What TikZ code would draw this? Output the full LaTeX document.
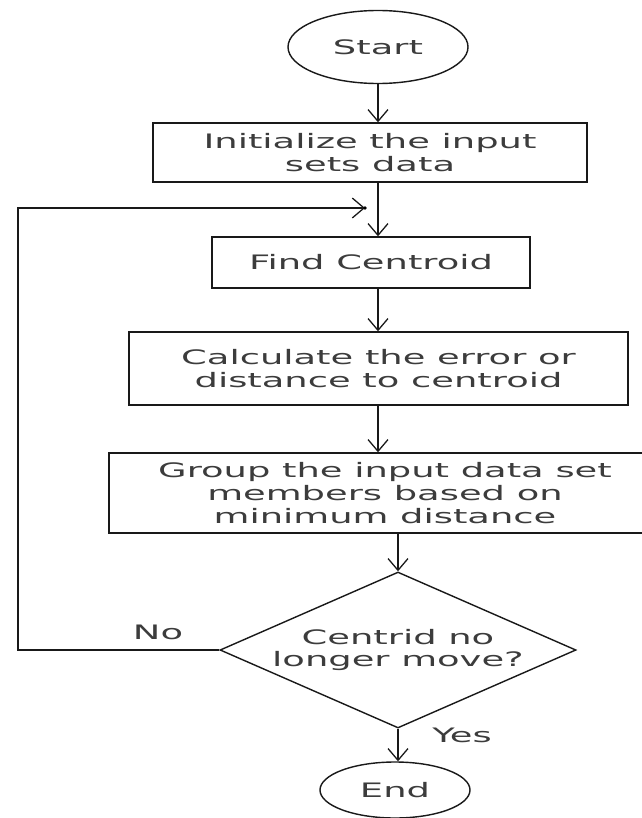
\documentclass[tikz,border=0pt]{standalone}
\usepackage{fontspec}
\usetikzlibrary{shapes.geometric,arrows.meta}
\newfontfamily\wfont[FakeStretch=1.85]{DejaVu Sans}
\definecolor{txt}{HTML}{3C3C3C}
\begin{document}
\begin{tikzpicture}[x=0.03cm,y=-0.03cm,
  every node/.style={font=\wfont\fontsize{17}{19.5}\selectfont, text=txt},
  shapeline/.style={draw=black!90, line width=1.2pt, fill=white, inner sep=0pt, align=center},
  term/.style={shapeline, ellipse},
  procbox/.style={shapeline, rectangle},
  decbox/.style={shapeline, diamond, aspect=2.28},
  flow/.style={draw=black!90, line width=1.2pt, -{Straight Barb[length=10pt,width=17pt,line width=1.1pt]}},
  lbl/.style={inner sep=0pt}]
\useasboundingbox (0,0) rectangle (641,818);
\node[term, minimum width=5.4cm, minimum height=2.19cm] (start) at (378,47) {Start};
\node[procbox, minimum width=13.02cm, minimum height=1.77cm] (init) at (370,152.5) {Initialize the input\\sets data};
\node[procbox, minimum width=9.54cm, minimum height=1.53cm] (cent) at (371,262.5) {Find Centroid};
\node[procbox, minimum width=14.97cm, minimum height=2.19cm] (calc) at (378.5,368.5) {Calculate the error or\\distance to centroid};
\node[procbox, minimum width=16.56cm, minimum height=2.4cm] (group) at (385,493) {Group the input data set\\members based on\\minimum distance};
\node[decbox, minimum width=10.68cm, minimum height=4.68cm] (dec) at (398,650) {Centrid no\\longer move?};
\node[term, minimum width=4.5cm, minimum height=1.68cm] (end) at (395,790) {End};
\node[lbl] (no) at (158,632) {No};
\node[lbl] (yes) at (462,735) {Yes};
\coordinate (loopL) at (18,208);
\coordinate (loopTip) at (365,208);
\draw[flow] (start.south) -- (start.south |- init.north);
\draw[flow] (start.south |- init.south) -- (start.south |- cent.north);
\draw[flow] (start.south |- cent.south) -- (start.south |- calc.north);
\draw[flow] (start.south |- calc.south) -- (start.south |- group.north);
\draw[flow] (dec.north |- group.south) -- (dec.north);
\draw[flow] (dec.south) -- (dec.south |- end.north);
\draw[flow] (dec.west) -- (dec.west -| loopL) -- (loopL) -- (loopTip);
\fill[black] (loopTip) circle (1.6pt);
\end{tikzpicture}
\end{document}
